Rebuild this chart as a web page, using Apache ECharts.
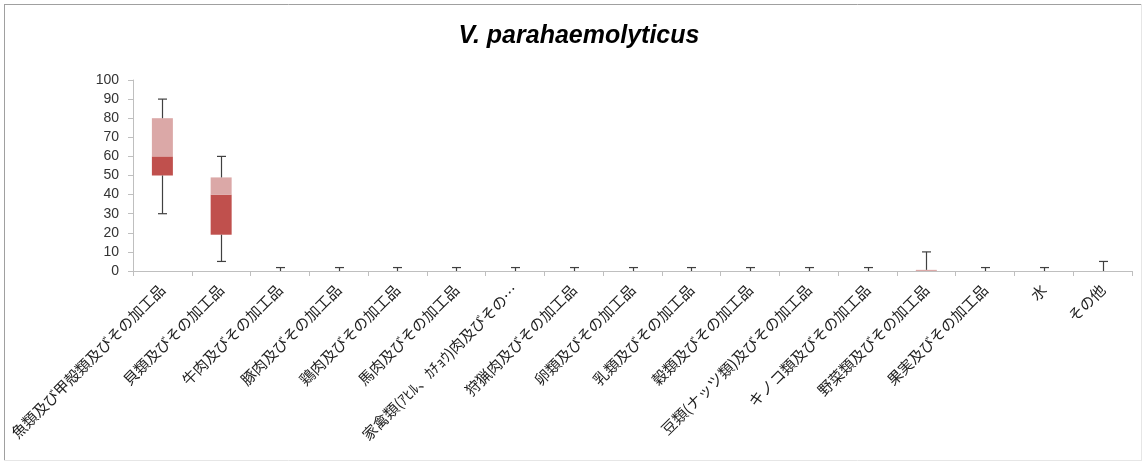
<!DOCTYPE html>
<html>
<head>
<meta charset="utf-8">
<script src="https://cdn.jsdelivr.net/npm/echarts@6/dist/echarts.min.js"></script>
<style>
html,body{margin:0;padding:0;background:#fff;}
#c{width:1143px;height:463px;}
</style>
</head>
<body>
<div id="c"></div>
<script>
const categories = [
  '魚類及び甲殻類及びその加工品','貝類及びその加工品','牛肉及びその加工品','豚肉及びその加工品',
  '鶏肉及びその加工品','馬肉及びその加工品','家禽類(ｱﾋﾙ、ｶﾁｮｳ)肉及びその…','狩猟肉及びその加工品',
  '卵類及びその加工品','乳類及びその加工品','穀類及びその加工品','豆類(ナッツ類)及びその加工品',
  'キノコ類及びその加工品','野菜類及びその加工品','果実及びその加工品','水','その他'
];
const mins    = [30, 5, 0,0,0,0,0,0,0,0,0,0,0, 0, 0,0,0];
const q1s     = [50,19, 0,0,0,0,0,0,0,0,0,0,0, 0, 0,0,0];
const medians = [60,40, 0,0,0,0,0,0,0,0,0,0,0, 0, 0,0,0];
const q3s     = [80,49, 0,0,0,0,0,0,0,0,0,0,0, 0.6, 0,0,0];
const maxs    = [90,60, 1.8,1.8,1.8,1.8,1.8,1.8,1.8,1.8,1.8,1.8,1.8, 10, 1.8,1.8,5];
const yTicks  = {min:0, max:100, interval:10};

const chart = echarts.init(document.getElementById('c'));
const base = q1s.slice();
const lower = medians.map((m,i)=>m - q1s[i]);
const upper = q3s.map((q,i)=>q - medians[i]);

chart.setOption({
  animation:false,
  backgroundColor:'#fff',
  title:{
    text:'V. parahaemolyticus', left:574, textAlign:'center', top:19,
    textStyle:{fontFamily:'Liberation Sans', fontStyle:'italic', fontWeight:'bold', fontSize:25, color:'#000'}
  },
  graphic:[
    {type:'line', shape:{x1:4,y1:4.5,x2:1142,y2:4.5}, style:{stroke:'#a0a0a0',lineWidth:1}},
    {type:'line', shape:{x1:4.5,y1:4,x2:4.5,y2:461}, style:{stroke:'#a0a0a0',lineWidth:1}},
    {type:'line', shape:{x1:1141.5,y1:4,x2:1141.5,y2:461}, style:{stroke:'#e6e6e6',lineWidth:1}},
    {type:'line', shape:{x1:4,y1:460.5,x2:1142,y2:460.5}, style:{stroke:'#e6e6e6',lineWidth:1}}
  ],
  grid:{left:133, right:11, top:80, bottom:192},
  xAxis:{
    type:'category', data:categories,
    axisLine:{lineStyle:{color:'#bfbfbf'}},
    axisTick:{show:true, length:5, lineStyle:{color:'#bfbfbf'}},
    axisLabel:{rotate:45, interval:0, fontSize:15, color:'#222', fontFamily:'Noto Sans CJK JP', margin:16}
  },
  yAxis:{
    type:'value', min:yTicks.min, max:yTicks.max, interval:yTicks.interval,
    splitLine:{show:false},
    axisLine:{show:true, lineStyle:{color:'#bfbfbf'}},
    axisTick:{show:true, length:5, lineStyle:{color:'#bfbfbf'}},
    axisLabel:{fontSize:14, color:'#333', fontFamily:'Liberation Sans', margin:14}
  },
  series:[
    {type:'bar', stack:'b', data:base, barWidth:21, itemStyle:{color:'transparent'}, silent:true},
    {type:'bar', stack:'b', data:lower, barWidth:21, itemStyle:{color:'#c0504d'}},
    {type:'bar', stack:'b', data:upper, barWidth:21, itemStyle:{color:'#dba8a7'}},
    {
      type:'custom',
      data:categories.map((c,i)=>[i, mins[i], q1s[i], q3s[i], maxs[i]]),
      encode:{x:0, y:[1,2,3,4]},
      z:5,
      renderItem:function(params, api){
        const i = api.value(0);
        const x = Math.round(api.coord([i,0])[0]) + 0.5;
        const yMin = api.coord([i, api.value(1)])[1];
        const yQ1 = api.coord([i, api.value(2)])[1];
        const yQ3 = api.coord([i, api.value(3)])[1];
        const yMax = api.coord([i, api.value(4)])[1];
        const cw = 4.5;
        const st = {stroke:'#404040', lineWidth:1.2};
        const ch = [];
        if (api.value(4) > api.value(3)) {
          ch.push({type:'line', shape:{x1:x,y1:yQ3,x2:x,y2:yMax}, style:st});
          ch.push({type:'line', shape:{x1:x-cw,y1:yMax,x2:x+cw,y2:yMax}, style:st});
        }
        if (api.value(1) < api.value(2)) {
          ch.push({type:'line', shape:{x1:x,y1:yQ1,x2:x,y2:yMin}, style:st});
          ch.push({type:'line', shape:{x1:x-cw,y1:yMin,x2:x+cw,y2:yMin}, style:st});
        }
        return {type:'group', children:ch};
      }
    }
  ]
});
</script>
</body>
</html>
